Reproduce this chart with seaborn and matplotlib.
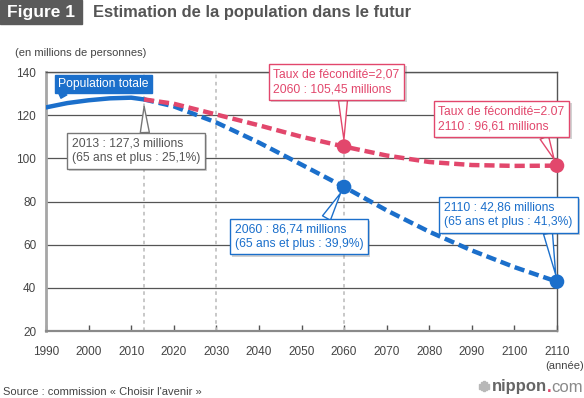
import numpy as np
import pandas as pd
import seaborn as sns
import matplotlib.pyplot as plt
import matplotlib.patheffects as pe
from matplotlib.patches import Rectangle

# population (millions)
years_actual = [1990, 1995, 2000, 2005, 2010, 2013]
pop_actual = [123.6, 125.6, 126.9, 127.8, 128.1, 127.3]

years_proj = [2013, 2020, 2030, 2040, 2050, 2060, 2070, 2080, 2090, 2100, 2110]
pop_current = [127.3, 124.1, 116.6, 107.3, 97.1, 86.74, 75.9, 66.0, 57.3, 49.6, 42.86]
pop_fertility = [127.3, 125.3, 120.3, 115.3, 110.0, 105.45, 101.3, 98.3, 96.9, 96.5, 96.61]

marker_years = [2060, 2110]
marker_blue = [86.74, 42.86]
marker_red = [105.45, 96.61]

guide_years = [2013, 2030, 2060]
x_ticks = list(range(1990, 2111, 10))
y_ticks = [20, 40, 60, 80, 100, 120, 140]

BLUE = '#1b6fcb'
RED = '#e2476c'
GREY = '#555555'

sns.set_theme(style='white')
plt.rcParams['font.family'] = ['Liberation Sans', 'DejaVu Sans']

W, H = 584, 398
fig = plt.figure(figsize=(W / 100, H / 100), dpi=100)
ax = fig.add_axes([46 / W, 1 - 331 / H, (557 - 46) / W, (331 - 72) / H])
ax.set_xlim(1990, 2110)
ax.set_ylim(20, 140)

for y in y_ticks[1:]:
    ax.axhline(y, color=GREY, lw=0.9, zorder=1)
for yr in guide_years:
    ax.axvline(yr, color='#c4c4c4', lw=1.3, ls=(0, (2, 2)), zorder=1)

dash = (0, (2.3, 1.1))
sns.lineplot(x=years_actual, y=pop_actual, color=BLUE, lw=3.2, ax=ax, zorder=3)
sns.lineplot(x=years_proj, y=pop_current, color=BLUE, lw=3.2, ls=dash, ax=ax, zorder=3)
sns.lineplot(x=years_proj, y=pop_fertility, color=RED, lw=3.2, ls=dash, ax=ax, zorder=4)
sns.scatterplot(x=marker_years, y=marker_blue, color=BLUE, s=110, edgecolor='none',
                ax=ax, zorder=5, clip_on=False)
sns.scatterplot(x=marker_years, y=marker_red, color=RED, s=110, edgecolor='none',
                ax=ax, zorder=5, clip_on=False)

ax.set_xticks(x_ticks)
ax.set_yticks(y_ticks)
ax.tick_params(axis='x', direction='in', length=4, width=1, color=GREY,
               labelsize=8.5, labelcolor='#444444', pad=11, bottom=True)
ax.tick_params(axis='y', length=0, labelsize=8.5, labelcolor='#444444', pad=7)
ax.set_xlabel('')
ax.set_ylabel('')
for side in ['top', 'right']:
    ax.spines[side].set_color(GREY)
    ax.spines[side].set_linewidth(1)
ax.spines['left'].set_color('#a6a6a6')
ax.spines['left'].set_linewidth(2)
ax.spines['bottom'].set_color('#8a8a8a')
ax.spines['bottom'].set_linewidth(1.6)


def callout(text, xy, center, color, relpos, fc='white', tc=None, shadow=True, pad=0.4):
    ann = ax.annotate(text, xy=xy, xycoords='data',
                      xytext=(center[0], H - center[1]), textcoords='figure pixels',
                      ha='center', va='center', multialignment='left',
                      fontsize=8.7, color=tc or color, linespacing=1.25,
                      bbox=dict(boxstyle='square,pad=%s' % pad, fc=fc, ec=color, lw=1),
                      arrowprops=dict(arrowstyle='wedge,tail_width=0.75,shrink_factor=0.5',
                                      fc=fc, ec=color, lw=1, relpos=relpos,
                                      shrinkA=0, shrinkB=5),
                      zorder=6, annotation_clip=False)
    if shadow:
        ann.get_bbox_patch().set_path_effects(
            [pe.SimplePatchShadow(offset=(1.5, -1.5), alpha=0.25), pe.Normal()])
    return ann


callout('Population totale', (1993, np.interp(1993, years_actual, pop_actual)),
        (103.5, 84), BLUE, (0.06, 0), fc=BLUE, tc='white', shadow=False, pad=0.25)
callout('2013 : 127,3 millions\n(65 ans et plus : 25,1%)', (2013, 127.3),
        (136, 151), '#777777', (0.57, 1), tc=GREY)
callout('Taux de fécondité=2,07\n2060 : 105,45 millions', (2060, 105.45),
        (336.5, 82), RED, (0.55, 0))
callout('Taux de fécondité=2.07\n2110 : 96,61 millions', (2110, 96.61),
        (501.5, 119), RED, (0.82, 0))
callout('2060 : 86,74 millions\n(65 ans et plus : 39,9%)', (2060, 86.74),
        (299, 236.5), BLUE, (0.69, 1))
callout('2110 : 42,86 millions\n(65 ans et plus : 41,3%)', (2110, 42.86),
        (508.5, 215), BLUE, (0.8, 0))

# header
fig.patches.append(Rectangle((0, 1 - 24 / H), 82 / W, 24 / H, transform=fig.transFigure,
                             color='#5a5a5a', zorder=0))
fig.text(7 / W, 1 - 12.5 / H, 'Figure 1', color='white', fontsize=12.5,
         fontweight='bold', va='center', ha='left')
fig.text(93 / W, 1 - 12.5 / H, 'Estimation de la population dans le futur', color='#555555',
         fontsize=11.9, fontweight='bold', va='center', ha='left')
fig.text(15 / W, 1 - 53 / H, '(en millions de personnes)', color='#444444', fontsize=8,
         va='center', ha='left')

# footer
fig.text(565 / W, 1 - 366 / H, '(année)', color='#444444', fontsize=8, va='center', ha='center')
fig.text(3 / W, 1 - 392 / H, "Source : commission « Choisir l'avenir »", color='#444444',
         fontsize=8, va='center', ha='left')
fig.text(547 / W, 1 - 387 / H, 'nippon', color='#666666', fontsize=12, fontweight='bold',
         va='center', ha='right')
fig.text(547 / W, 1 - 387 / H, '.', color=RED, fontsize=12, fontweight='bold',
         va='center', ha='left')
fig.text(551 / W, 1 - 387 / H, 'com', color='#8a8a8a', fontsize=12, va='center', ha='left')
for i, hgt in enumerate([5, 8, 10, 8, 5]):
    fig.patches.append(Rectangle(((479 + i * 2.2) / W, 1 - (386 + hgt / 2) / H), 1.3 / W, hgt / H,
                                 transform=fig.transFigure, color='#b8b8b8'))

fig.savefig('out.png', dpi=100)
